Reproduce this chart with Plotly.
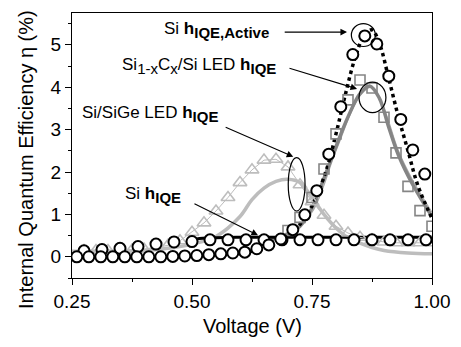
import plotly.graph_objects as go

# ---------------- data ----------------
# Si eta_IQE,Active (open circles) + dotted fit
active_v = [0.26, 0.285, 0.31, 0.335, 0.36, 0.385, 0.41, 0.435, 0.46, 0.485, 0.51, 0.535,
            0.56, 0.585, 0.61, 0.635, 0.66, 0.685, 0.71, 0.735, 0.76, 0.785, 0.81, 0.835,
            0.86, 0.885, 0.91, 0.935, 0.96, 0.985]
active_y = [0.0, 0.0, 0.0, 0.0, 0.0, 0.0, 0.0, 0.0, 0.01, 0.02, 0.03, 0.05,
            0.07, 0.09, 0.11, 0.19, 0.28, 0.42, 0.64, 0.99, 1.56, 2.42, 3.54, 4.77,
            5.21, 5.02, 4.26, 3.24, 2.52, 1.95]
active_fit_v = [0.55, 0.62, 0.67, 0.70, 0.72, 0.75, 0.78, 0.80, 0.82, 0.84, 0.86, 0.875,
                0.89, 0.91, 0.93, 0.95, 0.97, 1.0]
active_fit_y = [0.03, 0.12, 0.30, 0.50, 0.70, 1.20, 2.05, 2.90, 3.85, 4.70, 5.25, 5.35,
                5.05, 4.20, 3.30, 2.50, 1.70, 0.90]

# Si eta_IQE (open circles) + solid black fit
si_v = [0.275, 0.3125, 0.35, 0.3875, 0.425, 0.4625, 0.50, 0.5375, 0.575, 0.6125,
        0.65, 0.6875, 0.725, 0.7625, 0.80, 0.8375, 0.875, 0.9125, 0.95, 0.9875]
si_y = [0.14, 0.17, 0.20, 0.24, 0.30, 0.35, 0.36, 0.40, 0.40, 0.40,
        0.40, 0.40, 0.40, 0.40, 0.40, 0.40, 0.40, 0.40, 0.40, 0.40]
si_fit_v = [0.49, 0.51, 0.55, 0.60, 0.70, 0.80, 0.90, 1.00]
si_fit_y = [0.36, 0.42, 0.45, 0.46, 0.46, 0.46, 0.46, 0.46]

# Si1-xCx/Si LED (grey squares) + grey fit lines
sic_v = [0.70, 0.725, 0.75, 0.775, 0.80, 0.825, 0.85, 0.875, 0.90, 0.925, 0.95, 0.975, 1.0]
sic_y = [0.62, 0.93, 1.40, 2.07, 2.90, 3.70, 4.17, 3.98, 3.29, 2.45, 1.66, 1.09, 0.72]
sic_fit_v = [0.65, 0.70, 0.725, 0.75, 0.775, 0.80, 0.825, 0.85, 0.87, 0.89, 0.91, 0.93, 0.96, 1.0]
sic_fit_y = [0.35, 0.55, 0.72, 1.15, 1.85, 2.60, 3.30, 3.85, 4.03, 3.75, 3.05, 2.40, 1.70, 0.95]
sic_fit2_v = [0.70, 0.75, 0.80, 0.85, 0.875, 0.90, 0.93, 0.96, 1.0]
sic_fit2_y = [0.50, 1.05, 2.50, 3.80, 4.00, 3.50, 2.50, 1.80, 1.05]

# Si/SiGe LED (light grey triangles) + light grey fit
sige_v = [0.275, 0.30, 0.325, 0.35, 0.375, 0.40, 0.425, 0.45, 0.475, 0.50, 0.525, 0.55,
          0.575, 0.60, 0.625, 0.65, 0.675, 0.70, 0.725, 0.75, 0.775, 0.80, 0.825, 0.85,
          0.875, 0.90, 0.925, 0.95, 0.975, 1.0]
sige_y = [0.15, 0.15, 0.15, 0.15, 0.16, 0.18, 0.22, 0.27, 0.38, 0.58, 0.80, 1.08,
          1.40, 1.75, 2.05, 2.28, 2.30, 2.12, 1.70, 1.30, 0.98, 0.72, 0.56, 0.46,
          0.40, 0.35, 0.33, 0.33, 0.33, 0.33]
sige_fit_v = [0.25, 0.40, 0.45, 0.50, 0.55, 0.60, 0.625, 0.65, 0.675, 0.70, 0.725, 0.75,
              0.775, 0.80, 0.825, 0.85, 0.875, 0.90, 0.95, 1.0]
sige_fit_y = [0.13, 0.15, 0.20, 0.30, 0.48, 0.95, 1.35, 1.62, 1.78, 1.83, 1.75, 1.40,
              1.00, 0.68, 0.45, 0.32, 0.22, 0.15, 0.09, 0.07]

x_ticks = [0.25, 0.50, 0.75, 1.00]
x_tick_text = ["0.25", "0.50", "0.75", "1.00"]
y_ticks = [0, 1, 2, 3, 4, 5]

FONT = "Arial, Liberation Sans, sans-serif"
BLACK = "#000000"
GREY = "#858585"
GREY2 = "#a8a8a8"
LIGHT = "#bdbdbd"

fig = go.Figure()

# lines
fig.add_trace(go.Scatter(x=sige_fit_v, y=sige_fit_y, mode="lines",
                         line=dict(color=LIGHT, width=3.5, shape="spline")))
fig.add_trace(go.Scatter(x=sic_fit2_v, y=sic_fit2_y, mode="lines",
                         line=dict(color=GREY2, width=1.2, shape="spline")))
fig.add_trace(go.Scatter(x=sic_fit_v, y=sic_fit_y, mode="lines",
                         line=dict(color=GREY, width=3.5, shape="spline")))
fig.add_trace(go.Scatter(x=si_fit_v, y=si_fit_y, mode="lines",
                         line=dict(color=BLACK, width=3, shape="spline")))
fig.add_trace(go.Scatter(x=active_fit_v, y=active_fit_y, mode="lines",
                         line=dict(color=BLACK, width=3.5, dash="dot", shape="spline")))

# markers
fig.add_trace(go.Scatter(x=sige_v, y=sige_y, mode="lines+markers",
                         line=dict(color=LIGHT, width=1),
                         marker=dict(symbol="triangle-up-open", size=12, color=LIGHT,
                                     line=dict(width=1.6, color=LIGHT))))
fig.add_trace(go.Scatter(x=sic_v, y=sic_y, mode="markers",
                         marker=dict(symbol="square-open", size=10, color=GREY,
                                     line=dict(width=1.6, color=GREY))))
fig.add_trace(go.Scatter(x=si_v, y=si_y, mode="markers",
                         marker=dict(symbol="circle", size=11, color="white",
                                     line=dict(width=2, color=BLACK))))
fig.add_trace(go.Scatter(x=active_v, y=active_y, mode="markers",
                         marker=dict(symbol="circle", size=11, color="white",
                                     line=dict(width=2, color=BLACK))))

# ellipses
ell = [(0.857, 5.23, 0.025, 0.27), (0.876, 3.76, 0.028, 0.36), (0.718, 1.71, 0.0175, 0.63)]
for cx, cy, rx, ry in ell:
    fig.add_shape(type="circle", xref="x", yref="y", x0=cx - rx, x1=cx + rx,
                  y0=cy - ry, y1=cy + ry, line=dict(color=BLACK, width=1.2))

# arrows
arrows = [((0.690, 5.30), (0.823, 5.30)),
          ((0.700, 4.46), (0.844, 3.96)),
          ((0.567, 3.07), (0.711, 2.36)),
          ((0.502, 1.27), (0.6375, 0.51))]
for (tx, ty), (hx, hy) in arrows:
    fig.add_annotation(x=hx, y=hy, ax=tx, ay=ty, xref="x", yref="y", axref="x", ayref="y",
                       text="", showarrow=True, arrowhead=2, arrowsize=1.2,
                       arrowwidth=1.1, arrowcolor=BLACK)

sub = lambda s: "<sub><span style='font-size:15px'>" + s + "</span></sub>"
labels = [
    (0.4375, 5.36, "Si <b>h" + sub("<b>IQE,Active</b>") + "</b>"),
    (0.35, 4.50, "Si" + sub("1-x") + "C" + sub("x") + "/Si LED <b>h" + sub("<b>IQE</b>") + "</b>"),
    (0.2667, 3.36, "Si/SiGe LED <b>h" + sub("<b>IQE</b>") + "</b>"),
    (0.356, 1.45, "Si <b>h" + sub("<b>IQE</b>") + "</b>"),
]
for x, y, t in labels:
    fig.add_annotation(x=x, y=y, xref="x", yref="y", text=t, showarrow=False,
                       xanchor="left", yanchor="middle",
                       font=dict(family=FONT, size=17, color=BLACK))

# axis titles as annotations
fig.add_annotation(x=0.5, y=-0.181, xref="paper", yref="paper", text="Voltage (V)",
                   showarrow=False, xanchor="center", yanchor="middle",
                   font=dict(family=FONT, size=20, color=BLACK))
fig.add_annotation(x=-0.128, y=0.449, xref="paper", yref="paper",
                   text="Internal Quantum Efficiency η (%)", textangle=-90,
                   showarrow=False, xanchor="center", yanchor="middle",
                   font=dict(family=FONT, size=20, color=BLACK))

# page body has an 8px margin, so the figure is 8px smaller and margins shifted
fig.update_layout(
    width=453, height=339,
    margin=dict(l=64, r=29, t=5, b=69, autoexpand=False),
    paper_bgcolor="white", plot_bgcolor="white",
    showlegend=False,
    font=dict(family=FONT, size=19, color=BLACK),
    xaxis=dict(range=[0.25, 1.0], tickvals=x_ticks, ticktext=x_tick_text,
               ticks="outside", ticklen=6, tickwidth=1.2, tickcolor=BLACK,
               showline=True, linecolor=BLACK, linewidth=1.2, mirror=True,
               showgrid=False, zeroline=False,
               minor=dict(dtick=0.125, tick0=0.25, ticks="outside", ticklen=3,
                          tickcolor=BLACK, showgrid=False),
               tickfont=dict(family=FONT, size=19)),
    yaxis=dict(range=[-0.5, 5.75], tickvals=y_ticks,
               ticks="outside", ticklen=6, tickwidth=1.2, tickcolor=BLACK,
               showline=True, linecolor=BLACK, linewidth=1.2, mirror=True,
               showgrid=False, zeroline=False,
               minor=dict(dtick=0.5, tick0=0, ticks="outside", ticklen=3,
                          tickcolor=BLACK, showgrid=False),
               tickfont=dict(family=FONT, size=19)),
)

fig.write_html("out.html")
